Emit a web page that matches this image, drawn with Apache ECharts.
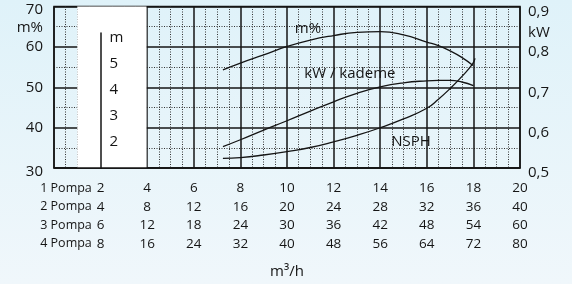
<!DOCTYPE html>
<html>
<head>
<meta charset="utf-8">
<script src="https://cdn.jsdelivr.net/npm/echarts@6/dist/echarts.min.js"></script>
<style>
  html, body { margin: 0; padding: 0; }
  body { background: linear-gradient(#dff2f9, #f0f7fb); }
  #pompaChart { width: 572px; height: 284px; }
</style>
</head>
<body>
<div id="pompaChart"></div>
<script>
// debi (m3/h) tablosu - pompa sayisina gore
const pumpNames = ["1 Pompa", "2 Pompa", "3 Pompa", "4 Pompa"];
const pompa1 = ["2", "4", "6", "8", "10", "12", "14", "16", "18", "20"];
const pompa2 = ["4", "8", "12", "16", "20", "24", "28", "32", "36", "40"];
const pompa3 = ["6", "12", "18", "24", "30", "36", "42", "48", "54", "60"];
const pompa4 = ["8", "16", "24", "32", "40", "48", "56", "64", "72", "80"];
const kwTicks = ["0,5", "0,6", "0,7", "0,8", "0,9"];
const npshTicks = ["2", "3", "4", "5"];

// verim (m%)
const effX = [7.25, 8, 9, 10, 11, 12, 13, 14, 15, 16, 16.5, 17, 17.5, 17.98];
const effY = [54.3, 56.0, 58.0, 60.1, 61.7, 62.8, 63.6, 63.8, 63.0, 61.2, 60.3, 59.0, 57.4, 55.4];
// guc (kW / kademe)
const powerX = [7.25, 8, 9, 10, 11, 12, 13, 14, 15, 16, 16.5, 17, 17.5, 18];
const powerY = [0.553, 0.570, 0.594, 0.617, 0.641, 0.664, 0.685, 0.701, 0.711, 0.716, 0.717, 0.717, 0.713, 0.704];
// NPSH (m)
const npshX = [7.25, 8, 9, 10, 11, 12, 13, 14, 15, 16, 16.5, 17, 17.5, 17.96, 18.07];
const npshY = [1.37, 1.40, 1.50, 1.63, 1.79, 2.01, 2.26, 2.55, 2.89, 3.30, 3.65, 4.06, 4.52, 5.00, 5.22];

const zip = (xs, ys) => xs.map((x, i) => [x, ys[i]]);

let myChart = echarts.init(document.getElementById("pompaChart"));

const ink = "#151515";
const font = "Open Sans";

const curveLine = { color: ink, width: 1.3 };
const dotted = { color: "#333", width: 1, type: [1, 1.5] };

function curveName(text, coord) {
  return {
    symbol: "circle",
    symbolSize: 0,
    label: { show: true, position: "inside", formatter: text, color: ink, fontSize: 15, fontFamily: font },
    data: [{ coord: coord }],
  };
}

let options = {
  animation: false,
  textStyle: { fontFamily: font },
  grid: [
    { left: 54, right: 52, top: 6.5, bottom: 116, show: true, borderColor: ink, borderWidth: 1.5, backgroundColor: "transparent" },
    // NPSH olcegi icin ikinci grid (m ekseni)
    { left: 54, right: 52, top: 33, bottom: 116 },
  ],
  xAxis: [
    {
      type: "value",
      gridIndex: 0,
      min: 0,
      max: 20,
      interval: 2,
      name: "m³/h",
      nameLocation: "middle",
      nameGap: 96,
      nameTextStyle: { color: ink, fontSize: 15, fontFamily: font },
      axisLine: { show: false },
      axisTick: { show: false },
      splitLine: { show: true, lineStyle: { color: ink, width: 1.5 } },
      minorTick: { show: false, splitNumber: 4 },
      minorSplitLine: { show: true, lineStyle: dotted },
      axisLabel: {
        margin: 11,
        color: ink,
        fontSize: 13.5,
        lineHeight: 18.5,
        fontFamily: font,
        formatter: function (value) {
          let i = Math.round(value / 2) - 1;
          if (i < 0) {
            return pumpNames.map((n) => "{p|" + n + "}").join("\n");
          }
          return [pompa1[i], pompa2[i], pompa3[i], pompa4[i]].join("\n");
        },
        rich: {
          p: { fontSize: 12.5, lineHeight: 18.5, color: ink, fontFamily: font, padding: [0, 0, 0, 24] },
        },
      },
    },
    {
      // alt cizgi beyaz kutunun ustunde kalsin
      type: "value",
      gridIndex: 0,
      position: "bottom",
      min: 0,
      max: 20,
      z: 10,
      axisLine: { show: true, lineStyle: { color: ink, width: 1.5 } },
      axisTick: { show: false },
      axisLabel: { show: false },
      splitLine: { show: false },
    },
    { type: "value", gridIndex: 1, min: 0, max: 20, show: false },
  ],
  yAxis: [
    {
      type: "value",
      gridIndex: 0,
      position: "left",
      min: 30,
      max: 70,
      interval: 10,
      name: "m%",
      nameLocation: "end",
      nameGap: -21.5,
      nameTextStyle: { color: ink, fontSize: 15, fontFamily: font, align: "right", verticalAlign: "middle", padding: [0, 11, 0, 0] },
      axisLine: { show: false },
      axisTick: { show: false },
      axisLabel: {
        margin: 11,
        formatter: function (value) {
          // uctaki etiketler biraz asagida
          return (value === 30 || value === 70 ? "{e|" : "{n|") + value + "}";
        },
        rich: {
          n: { color: ink, fontSize: 15, fontFamily: font },
          e: { color: ink, fontSize: 15, fontFamily: font, padding: [7, 0, 0, 0] },
        },
      },
      splitLine: { show: true, lineStyle: { color: ink, width: 1.5 } },
      minorTick: { show: false, splitNumber: 2 },
      minorSplitLine: { show: true, lineStyle: dotted },
    },
    {
      type: "value",
      gridIndex: 0,
      position: "right",
      min: 0.5,
      max: 0.9,
      interval: 0.1,
      axisLine: { show: false },
      axisTick: { show: false },
      splitLine: { show: false },
      axisLabel: {
        margin: 8,
        formatter: function (value) {
          return "{k|" + kwTicks[Math.round((value - 0.5) * 10)] + "}";
        },
        rich: {
          k: { color: ink, fontSize: 15, fontFamily: font, padding: [10, 0, 0, 0] },
        },
      },
    },
    {
      type: "value",
      gridIndex: 1,
      position: "left",
      offset: -46.6,
      min: 1,
      max: 6.2,
      interval: 1,
      z: 10,
      axisLine: { show: true, lineStyle: { color: ink, width: 1.5 } },
      axisTick: { show: false },
      splitLine: { show: false },
      axisLabel: {
        inside: true,
        margin: 9,
        color: ink,
        fontSize: 15,
        fontFamily: font,
        formatter: function (value) {
          let v = Math.round(value);
          if (v === 6) return "m";
          return npshTicks[v - 2] || "";
        },
      },
    },
    {
      // sag eksen birimi (kW) 0,8 ile 0,9 arasinda
      type: "value",
      gridIndex: 0,
      position: "right",
      min: 0.5,
      max: 0.9,
      interval: 0.05,
      axisLine: { show: false },
      axisTick: { show: false },
      splitLine: { show: false },
      axisLabel: {
        margin: 8,
        formatter: function (value) {
          return Math.abs(value - 0.85) < 0.001 ? "{k|kW}" : "";
        },
        rich: {
          k: { color: ink, fontSize: 15, fontFamily: font, padding: [12, 0, 0, 0] },
        },
      },
    },
  ],
  series: [
    {
      name: "m%",
      type: "line",
      xAxisIndex: 0,
      yAxisIndex: 0,
      smooth: true,
      showSymbol: false,
      lineStyle: curveLine,
      data: zip(effX, effY),
      markPoint: curveName("m%", [10.9, 64.4]),
      markArea: {
        silent: true,
        itemStyle: { color: "#ffffff", opacity: 1 },
        data: [[{ xAxis: 1 }, { xAxis: 3.97 }]],
      },
    },
    {
      name: "kW / kademe",
      type: "line",
      xAxisIndex: 0,
      yAxisIndex: 1,
      smooth: true,
      showSymbol: false,
      lineStyle: curveLine,
      data: zip(powerX, powerY),
      markPoint: curveName("kW / kademe", [12.7, 0.733]),
    },
    {
      name: "NSPH",
      type: "line",
      xAxisIndex: 2,
      yAxisIndex: 2,
      smooth: true,
      showSymbol: false,
      lineStyle: curveLine,
      data: zip(npshX, npshY),
      markPoint: curveName("NSPH", [15.32, 2.0]),
    },
  ],
};

myChart.setOption(options);
</script>
</body>
</html>
